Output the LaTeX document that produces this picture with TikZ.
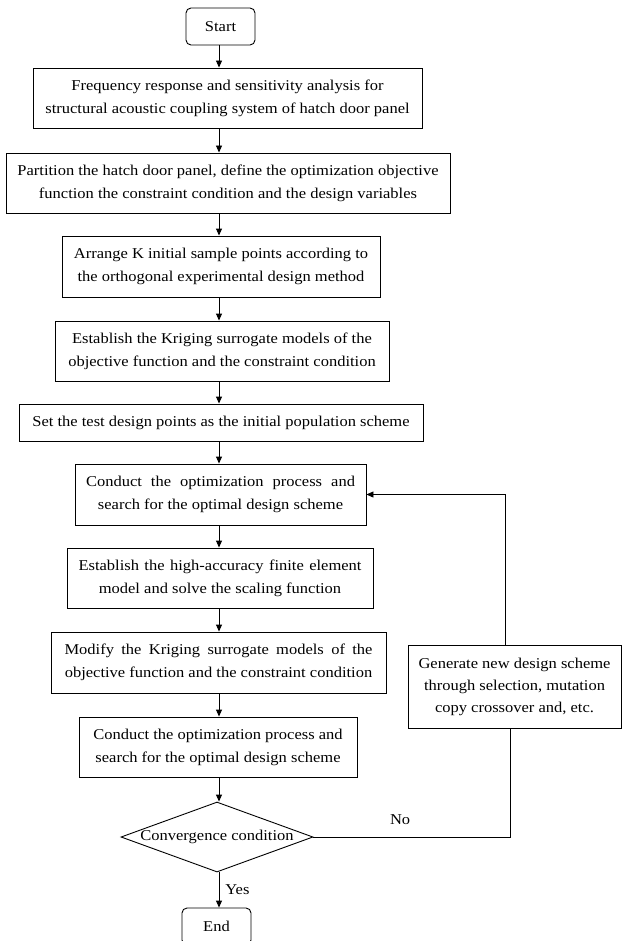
\documentclass[tikz,border=0pt]{standalone}
\usepackage{fontspec}
\setmainfont{Liberation Serif}[FakeStretch=1.1]
\usetikzlibrary{shapes.geometric,arrows.meta}
\tikzset{
  box/.style={draw, line width=0.9pt, rectangle, inner sep=0pt, align=center, font=\fontsize{15}{23}\selectfont},
  term/.style={box, rounded corners=5pt},
  dec/.style={draw, line width=0.9pt, diamond, aspect=2.74, inner sep=0pt, align=center, font=\fontsize{15}{23}\selectfont},
  arr/.style={line width=0.9pt, -{Triangle[width=6pt,length=7pt]}},
  ln/.style={line width=0.9pt},
  lbl/.style={font=\fontsize{15}{16}\selectfont, inner sep=0pt}
}
\begin{document}
\begin{tikzpicture}[x=1pt,y=-1pt]
\path[use as bounding box, fill=white] (0,0) rectangle (622,941);
\clip (0,0) rectangle (622,941);
\coordinate (axis) at (219,0);
\node[term, minimum width=69pt, minimum height=37pt] (start) at (220.5,26.5) {Start};
\node[box, minimum width=389pt, minimum height=60pt] (b1) at (227.5,98) {Frequency response and sensitivity analysis for\\structural acoustic coupling system of hatch door panel};
\node[box, minimum width=444pt, minimum height=60pt] (b2) at (228,183) {Partition the hatch door panel, define the optimization objective\\function the constraint condition and the design variables};
\node[box, minimum width=318pt, minimum height=61pt] (b3) at (221,266.5) {Arrange K initial sample points according to\\the orthogonal experimental design method};
\node[box, minimum width=334pt, minimum height=60pt] (b4) at (222,351) {Establish the Kriging surrogate models of the\\objective function and the constraint condition};
\node[box, minimum width=404pt, minimum height=37pt] (b5) at (221,422.5) {Set the test design points as the initial population scheme};
\node[box, minimum width=291pt, minimum height=61pt] (b6) at (220.5,494.5) {\makebox[269pt][s]{Conduct the optimization process and}\\search for the optimal design scheme};
\node[box, minimum width=306pt, minimum height=60pt] (b7) at (220,578) {\makebox[283pt][s]{Establish the high-accuracy finite element}\\model and solve the scaling function};
\node[box, minimum width=335pt, minimum height=61pt] (b8) at (218.5,662.5) {\makebox[308pt][s]{Modify the Kriging surrogate models of the}\\objective function and the constraint condition};
\node[box, minimum width=278pt, minimum height=60pt] (b9) at (218,747) {Conduct the optimization process and\\search for the optimal design scheme};
\node[dec, minimum width=192pt, minimum height=70pt] (dia) at (217,837) {Convergence condition};
\node[term, minimum width=69pt, minimum height=37pt] (end) at (216.5,926.5) {End};
\node[box, minimum width=213pt, minimum height=83pt, font=\fontsize{15}{22}\selectfont] (gen) at (514.5,686.5) {Generate new design scheme\\through selection, mutation\\copy crossover and, etc.};

\draw[arr] (start.south -| axis) -- (b1.north -| axis);
\draw[arr] (b1.south -| axis) -- (b2.north -| axis);
\draw[arr] (b2.south -| axis) -- (b3.north -| axis);
\draw[arr] (b3.south -| axis) -- (b4.north -| axis);
\draw[arr] (b4.south -| axis) -- (b5.north -| axis);
\draw[arr] (b5.south -| axis) -- (b6.north -| axis);
\draw[arr] (b6.south -| axis) -- (b7.north -| axis);
\draw[arr] (b7.south -| axis) -- (b8.north -| axis);
\draw[arr] (b8.south -| axis) -- (b9.north -| axis);
\draw[arr] (b9.south -| axis) -- (dia.north -| axis);
\draw[arr] (dia.south -| axis) -- (end.north -| axis) node[lbl, pos=0.5, right=6pt] {Yes};
\draw[ln] (dia.east) -| ([xshift=-4pt]gen.south) node[lbl, pos=0.22, above=12pt] {No};
\draw[arr] ([xshift=-9pt]gen.north) |- (b6.east);
\end{tikzpicture}
\end{document}
